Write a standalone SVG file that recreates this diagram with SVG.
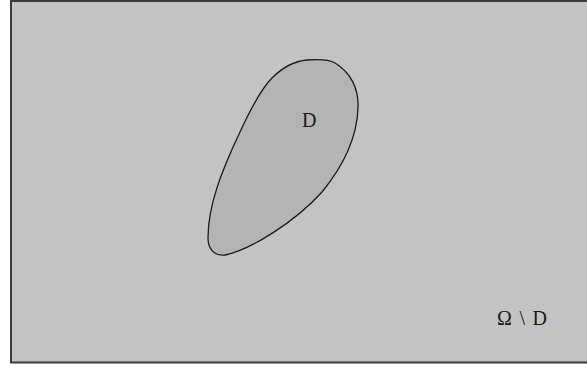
<svg xmlns="http://www.w3.org/2000/svg" width="587" height="366" viewBox="0 0 587 366">
<style>
.lbl{font-family:"Liberation Serif","Times New Roman",serif;font-size:20px;fill:#1a1a1a}
</style>
<rect x="0" y="0" width="587" height="366" fill="#ffffff"/>
<g id="omega">
<rect x="11" y="1" width="580" height="361.5" fill="#c3c3c3" stroke="#3a3a3a" stroke-width="2"/>
<text class="lbl" x="497" y="325" textLength="50">Ω \ D</text>
</g>
<g id="D">
<path d="M307,60 C320,59 330,60 335,63 C350,72 359,88 358,108 C357,140 340,170 322,192 C295,222 250,250 225,255 C215,256 208,250 208,238 C208,205 222,170 240,132 C252,106 262,88 272,78 C283,67 295,61 307,60 Z" fill="#b4b4b4" stroke="#1a1a1a" stroke-width="1.3"/>
<text class="lbl" x="302" y="127">D</text>
</g>
</svg>
